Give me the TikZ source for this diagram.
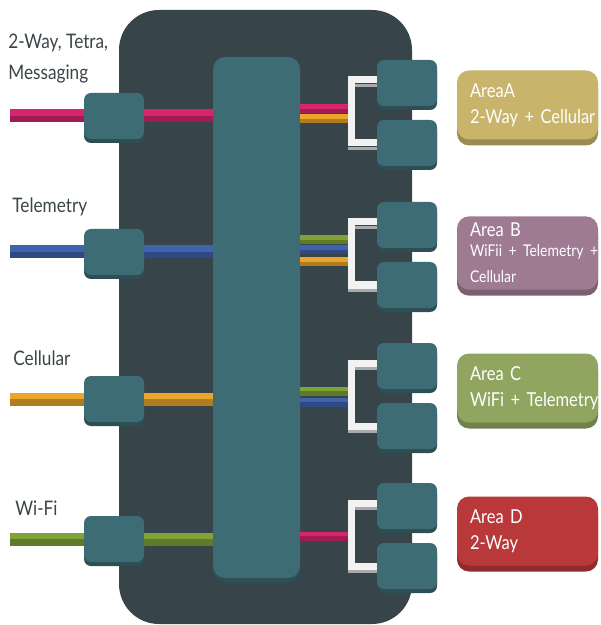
\documentclass[tikz,border=0pt]{standalone}
\usepackage{fontspec}
\setmainfont{Lato}[FakeStretch=0.86]
\usetikzlibrary{calc}

\definecolor{housing}{HTML}{37454A}
\definecolor{tealc}{HTML}{3E6C74}
\definecolor{lblgray}{HTML}{3B4447}
\definecolor{wpink}{HTML}{D5256E}
\definecolor{wblue}{HTML}{3F63AD}
\definecolor{worange}{HTML}{EAA52B}
\definecolor{wgreen}{HTML}{7FA336}
\definecolor{areaAc}{HTML}{C8B46A}
\definecolor{areaBc}{HTML}{9E7B93}
\definecolor{areaCc}{HTML}{8FA560}
\definecolor{areaDc}{HTML}{B9393B}
\definecolor{brwhite}{HTML}{F2F2F2}
\definecolor{brgray}{HTML}{A9A9AE}

% a cable: light upper half, darker lower half
\newcommand{\wire}[4]{%
  \draw[line width=#2, #1] (#3) -- (#4);
  \draw[line width=#2/2, #1!75!black, transform canvas={yshift=-#2/4}] (#3) -- (#4);}

\tikzset{
  port/.style={rectangle, rounded corners=3.5pt, fill=tealc, minimum width=30pt, minimum height=23pt,
    inner sep=0pt, preaction={fill=tealc!72!black, transform canvas={yshift=-2pt}}},
  hubbox/.style={rectangle, rounded corners=6pt, fill=tealc, minimum width=43.5pt, minimum height=260.5pt,
    inner sep=0pt, preaction={fill=tealc!72!black, transform canvas={yshift=-2.5pt}}},
  lbl/.style={anchor=base west, inner sep=0pt, align=left, text=lblgray, font=\fontsize{10}{15.5}\selectfont},
  area/.style={rectangle, rounded corners=6pt, fill=#1, minimum width=70.5pt, minimum height=34.5pt,
    text width=70.5pt, inner xsep=0pt, align=left, text=white, font=\fontsize{9.6}{13}\selectfont,
    execute at begin node={\leftskip=6.5pt\rightskip=-12pt plus 1fil\hyphenpenalty=10000\relax},
    preaction={fill=#1!78!black, transform canvas={yshift=-3pt}}},
  bracket/.style={draw=brwhite, line width=3.5pt},
  brshade/.style={draw=brgray, line width=1.9pt},
}

\begin{document}
\begin{tikzpicture}[x=0.5pt, y=-0.5pt]
  \useasboundingbox (0,0) rectangle (600,625);
  % housing
  \fill[housing, rounded corners=20pt] (119,10) rectangle (412,624);
  % central switch
  \node[hubbox] (hub) at (256.5,317.5) {};
  % inputs
  \foreach \nm/\yc/\c in {Tetra/116/wpink, Tel/252/wblue, Cell/399/worange, Wifi/539/wgreen}{
    \node[port] (in\nm) at (114,\yc) {};
    \coordinate (end\nm) at (10,\yc);
    \wire{\c}{6.5pt}{end\nm}{in\nm.west}
    \wire{\c}{6.5pt}{in\nm.east}{hub.west |- in\nm.east}
  }
  \node[lbl] (lblTetra) at (8,80) {2-Way, Tetra,\\Messaging};
  \node[lbl] (lblTel) at (12,213) {Telemetry};
  \node[lbl] (lblCell) at (13,365) {Cellular};
  \node[lbl] (lblWifi) at (15,515) {Wi-Fi};
  % outputs, paired by a bracket
  \foreach \nm/\yc/\wires in {A/83/{wpink/26,worange/36}, B/225/{wgreen/15,wblue/25,worange/37},
                             C/366/{wgreen/25,wblue/36}, D/506/{wpink/30}}{
    \node[port] (out\nm1) at (407,\yc) {};
    \node[port] (out\nm2) at (407,\yc+60) {};
    \coordinate (br\nm) at ($(out\nm1.west)+(-27,0)$);
    \foreach \c/\dy in \wires
      \wire{\c}{4.5pt}{$(hub.east |- br\nm)+(0,\dy)$}{$(br\nm)+(0,\dy)$}
    \draw[bracket] ($(out\nm1.west)+(0,-3)$) -- ++(-25.5,0) |- (out\nm2.west);
    \draw[brshade] ($(out\nm1.west)+(-22,2.5)$) -- ($(out\nm1.west)+(0,2.5)$);
    \draw[brshade] ($(out\nm2.west)+(-29,5.5)$) -- ($(out\nm2.west)+(0,5.5)$);
  }
  % areas
  \node[area=areaAc] (areaA) at (527.5,105) {AreaA\\2-Way + Cellular};
  \node[area=areaBc] (areaB) at (527.5,253) {Area B\\[-1pt]\fontsize{8.1}{11}\selectfont WiFii + Telemetry +\\Cellular};
  \node[area=areaCc] (areaC) at (527.5,388) {Area C\\WiFi + Telemetry};
  \node[area=areaDc] (areaD) at (527.5,531) {Area D\\2-Way};
\end{tikzpicture}
\end{document}
